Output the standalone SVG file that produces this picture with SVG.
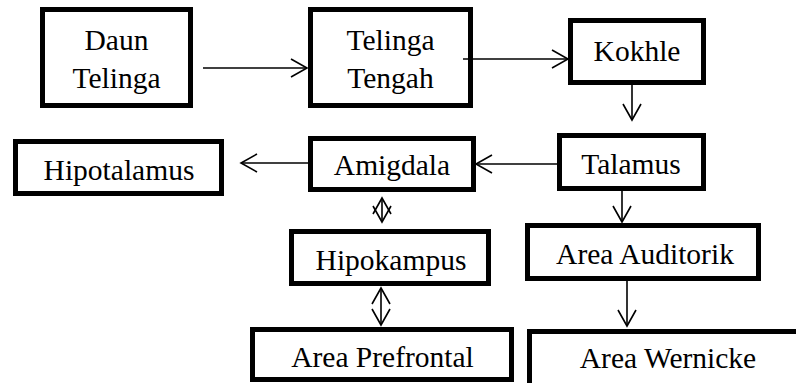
<svg xmlns="http://www.w3.org/2000/svg" width="796" height="383" viewBox="0 0 796 383">
<style>
.box{fill:#fff;stroke:#000;stroke-width:5}
.lbl{font-family:"Liberation Serif","Times New Roman",serif;font-size:29.5px;fill:#000;text-anchor:middle}
.con{fill:none;stroke:#000;stroke-width:1.6;marker-end:url(#ah)}
.dbl{marker-start:url(#ah)}
</style>
<defs>
<marker id="ah" markerUnits="userSpaceOnUse" markerWidth="20" markerHeight="20" viewBox="-18 -10 20 20" refX="0" refY="0" orient="auto-start-reverse" overflow="visible">
<path d="M-16,-9 L0,0 L-16,9" fill="none" stroke="#000" stroke-width="1.6"/>
</marker>
</defs>
<rect width="796" height="383" fill="#fff"/>
<g id="daun-telinga"><rect class="box" x="42.5" y="9.5" width="148" height="96"/><text class="lbl" x="116.5" y="50">Daun</text><text class="lbl" x="116.5" y="88">Telinga</text></g>
<g id="telinga-tengah"><rect class="box" x="310.5" y="9.5" width="160" height="96"/><text class="lbl" x="390.5" y="50">Telinga</text><text class="lbl" x="390.5" y="88">Tengah</text></g>
<g id="kokhle"><rect class="box" x="570.5" y="20.5" width="133" height="62"/><text class="lbl" x="637" y="61">Kokhle</text></g>
<g id="talamus"><rect class="box" x="559.5" y="135.5" width="144" height="53"/><text class="lbl" x="631" y="174">Talamus</text></g>
<g id="amigdala"><rect class="box" x="310.5" y="138.5" width="163" height="51"/><text class="lbl" x="392" y="175">Amigdala</text></g>
<g id="hipotalamus"><rect class="box" x="15.5" y="141.5" width="206" height="52"/><text class="lbl" x="119" y="180">Hipotalamus</text></g>
<g id="hipokampus"><rect class="box" x="291.5" y="231.5" width="197" height="52"/><text class="lbl" x="391" y="270">Hipokampus</text></g>
<g id="area-auditorik"><rect class="box" x="527.5" y="225.5" width="231" height="53"/><text class="lbl" x="645" y="264">Area Auditorik</text></g>
<g id="area-prefrontal"><rect class="box" x="252.5" y="329.5" width="259" height="50"/><text class="lbl" x="382.5" y="367">Area Prefrontal</text></g>
<g id="area-wernicke"><rect class="box" x="529.5" y="331.5" width="300" height="80"/><text class="lbl" x="668" y="368">Area Wernicke</text></g>
<g id="connectors">
<path class="con" d="M203,68 H307"/>
<path class="con" d="M463,59 H568"/>
<path class="con" d="M632,85 V120"/>
<path class="con" d="M557,164 H476"/>
<path class="con" d="M308,163 H241"/>
<path class="con" d="M622,191 V222"/>
<path class="con" d="M627,281 V326"/>
<path class="con dbl" d="M382,198 V222"/>
<path class="con dbl" d="M381,288 V325"/>
</g>
</svg>
